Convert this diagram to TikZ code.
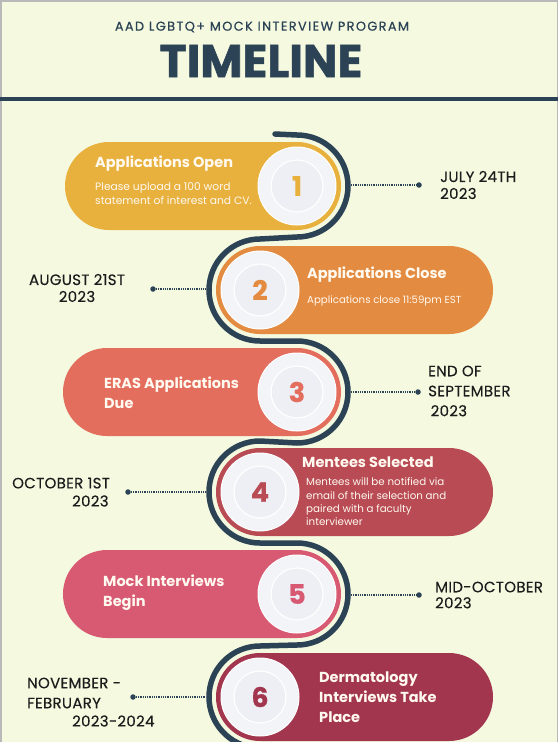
\documentclass[tikz,border=0pt]{standalone}
\usepackage{fontspec}
\setmainfont{Poppins}
\definecolor{bg}{HTML}{F4F9DF}
\definecolor{navy}{HTML}{2C4356}
\definecolor{cA}{HTML}{E8B13E}
\definecolor{cB}{HTML}{E38B40}
\definecolor{cC}{HTML}{E46E5D}
\definecolor{cD}{HTML}{B84B53}
\definecolor{cE}{HTML}{D85A72}
\definecolor{cF}{HTML}{A3364F}
\definecolor{discout}{HTML}{F3F4F8}
\definecolor{discin}{HTML}{EEEFF4}
\definecolor{datecol}{HTML}{1C1C1C}
\definecolor{pilltext}{HTML}{FFF9F0}
\begin{document}
\begin{tikzpicture}[x=1pt,y=-1pt,
  outerdisc/.style={circle,fill=discout,draw=white,line width=1,minimum size=78,inner sep=0},
  numdisc/.style={circle,fill=discin,draw=white,line width=1.2,minimum size=52,inner sep=0,
    font=\fontsize{27}{30}\selectfont\bfseries\addfontfeature{FakeBold=0.6}},
  snake/.style={navy,line width=5.5,line cap=round},
  dotline/.style={navy,line width=1.4,dash pattern=on 1pt off 0.8pt},
  enddot/.style={circle,fill=navy,inner sep=0,minimum size=5.5},
  ptitle/.style={anchor=west,inner sep=0,text=pilltext,font=\fontsize{14.5}{20}\selectfont\bfseries,align=left},
  pbody/.style={anchor=west,inner sep=0,text=pilltext,font=\fontsize{10}{14}\selectfont,align=left},
  datetext/.style={inner sep=0,text=datecol,font=\fontsize{15}{#1}\selectfont\addfontfeature{LetterSpace=2,FakeBold=0.3}},
  datetext/.default=17,
]
\fill[bg] (0,0) rectangle (558,742);
\useasboundingbox (0,0) rectangle (558,742);
\draw[gray!55,line width=1.5] (0.75,742) -- (0.75,0.75) -- (557.25,0.75) -- (557.25,742);

% header
\node[text=navy,inner sep=0,font=\fontsize{12.8}{14}\selectfont\addfontfeature{LetterSpace=11,FakeBold=0.6}] (sub) at (262,27) {AAD LGBTQ+ MOCK INTERVIEW PROGRAM};
\node[text=navy,inner sep=0,font=\fontsize{46}{50}\selectfont\bfseries\addfontfeature{FakeBold=1.2}] (title) at (261,61) {TIMELINE};
\draw[navy,line width=4] (0,98.5) -- (558,98.5);

% pills
\fill[cA,rounded corners=44] (65,142) rectangle (341,230);
\fill[cB,rounded corners=44] (216,246) rectangle (493,334);
\fill[cC,rounded corners=44] (63,348) rectangle (341,436);
\fill[cD,rounded corners=44] (216,448) rectangle (493,536);
\fill[cE,rounded corners=44] (63,550) rectangle (341,638);
\fill[cF,rounded corners=44] (216,653) rectangle (493,741);

% snake line
\draw[snake] (275,134) -- (297,135) arc[start angle=-90,end angle=90,radius=51]
  -- (260,239) arc[start angle=-90,end angle=-270,radius=51]
  -- (297,341) arc[start angle=-90,end angle=90,radius=51]
  -- (260,441) arc[start angle=-90,end angle=-270,radius=51]
  -- (297,543) arc[start angle=-90,end angle=90,radius=51]
  -- (260,646) arc[start angle=-90,end angle=-265,radius=51];

% discs
\node[outerdisc] (o1) at (297,186) {};
\node[numdisc,text=cA] (n1) at (297,186) {1};
\node[outerdisc] (o2) at (260,290) {};
\node[numdisc,text=cB] (n2) at (260,290) {2};
\node[outerdisc] (o3) at (297,392) {};
\node[numdisc,text=cC] (n3) at (297,392) {3};
\node[outerdisc] (o4) at (260,492) {};
\node[numdisc,text=cD] (n4) at (260,492) {4};
\node[outerdisc] (o5) at (297,594) {};
\node[numdisc,text=cE] (n5) at (297,594) {5};
\node[outerdisc] (o6) at (260,697) {};
\node[numdisc,text=cF] (n6) at (260,697) {6};

% pill texts
\node[ptitle] (t1) at (95,164) {Applications Open};
\node[pbody,font=\fontsize{10.7}{14}\selectfont] (b1) at (95,194) {Please upload a 100 word\\statement of interest and CV.};
\node[ptitle] (t2) at (307,275) {Applications Close};
\node[pbody,font=\fontsize{10.2}{14}\selectfont] (b2) at (307,301) {Applications close 11:59pm EST};
\node[ptitle] (t3) at (104,393) {ERAS Applications\\Due};
\node[ptitle] (t4) at (302,462) {Mentees Selected};
\node[pbody,font=\fontsize{10.3}{13.3}\selectfont] (b4) at (306,502) {Mentees will be notified via\\email of their selection and\\paired with a faculty\\interviewer};
\node[ptitle] (t5) at (103,593) {Mock Interviews\\Begin};
\node[ptitle] (t6) at (319,697) {Dermatology\\Interviews Take\\Place};

% connectors and dates
\coordinate (a1) at (351,185);
\node[enddot] (e1) at (419,185) {};
\draw[dotline] (a1) -- (e1);
\node[datetext,anchor=west,align=left] (d1) at (440,185) {JULY 24TH\\2023};

\coordinate (a2) at (206,289);
\node[enddot] (e2) at (153,289) {};
\draw[dotline] (e2) -- (a2);
\node[datetext,align=center] (d2) at (77,288) {AUGUST 21ST\\2023};

\coordinate (a3) at (351,392);
\node[enddot] (e3) at (418,392) {};
\draw[dotline] (a3) -- (e3);
\node[datetext=20,anchor=west,align=left] (d3) at (428,391) {END OF\\SEPTEMBER\\\,2023};

\coordinate (a4) at (206,492);
\node[enddot] (e4) at (128,492) {};
\draw[dotline] (e4) -- (a4);
\node[datetext,anchor=west] (d4a) at (12,483) {OCTOBER 1ST};
\node[datetext,anchor=west] (d4b) at (72,501) {2023};

\coordinate (a5) at (351,595);
\node[enddot] (e5) at (419,595) {};
\draw[dotline] (a5) -- (e5);
\node[datetext=16,anchor=west,align=left] (d5) at (435,595) {MID-OCTOBER\\2023};

\coordinate (a6) at (206,697);
\node[enddot] (e6) at (133,697) {};
\draw[dotline] (e6) -- (a6);
\node[datetext=20,anchor=west,align=left] (d6a) at (27,693) {NOVEMBER -\\FEBRUARY};
\node[datetext,anchor=west] (d6b) at (72,721) {2023-2024};
\end{tikzpicture}
\end{document}
